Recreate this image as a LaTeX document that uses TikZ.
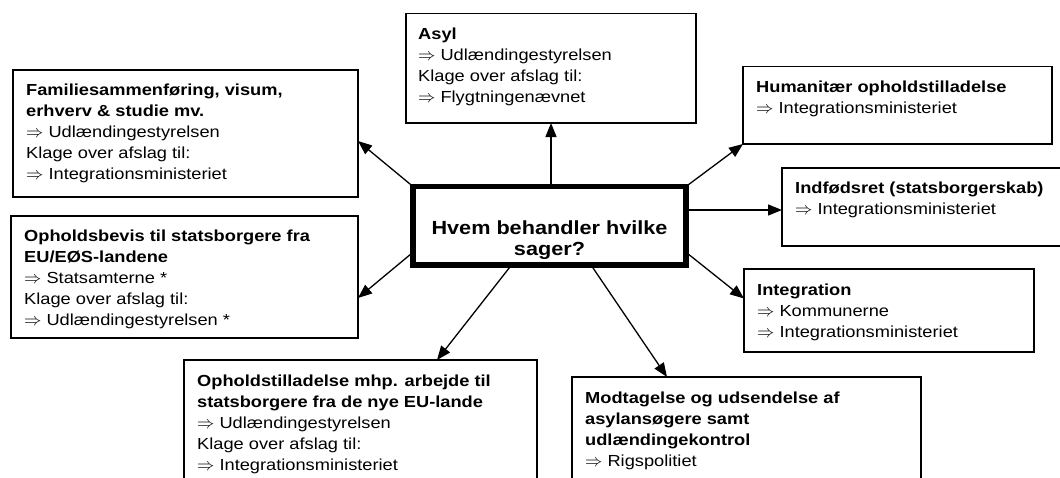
\documentclass[tikz,border=0pt]{standalone}
\usepackage{fontspec}
\setmainfont{Liberation Sans}[FakeStretch=1.14]
\usetikzlibrary{arrows.meta}
\newcommand{\bodyfont}{\fontsize{16}{21}\selectfont}
\newcommand{\titlefont}{\fontsize{19}{21}\selectfont\bfseries}
\newcommand{\Ra}{$\Rightarrow$}
\newcommand{\boxtext}[1]{\parbox[t]{340pt}{\bodyfont\raggedright #1}}
\begin{document}
\begin{tikzpicture}[x=1pt,y=-1pt,
  box/.style={draw, line width=1.3pt, inner sep=0pt, outer sep=0pt, anchor=north west},
  ctrbox/.style={draw, line width=5.5pt, inner sep=0pt, outer sep=0pt, anchor=north west},
  txt/.style={anchor=base west, inner sep=0pt},
  arr/.style={line width=1.3pt, -{Triangle[length=14pt,width=11pt]}}]
\useasboundingbox (0,0) rectangle (1060,477);
\clip (0,0) rectangle (1060,477);
% boxes
\node[box, minimum width=290pt, minimum height=109.5pt] (asyl) at (406,13.5) {};
\node[box, minimum width=345pt, minimum height=127pt] (fam) at (13,70) {};
\node[box, minimum width=347pt, minimum height=122pt] (eu) at (11,216) {};
\node[ctrbox, minimum width=273pt, minimum height=78.5pt] (ctr) at (413,186.5) {};
\node[box, minimum width=309pt, minimum height=77.5pt] (hum) at (743,66.5) {};
\node[box, minimum width=290pt, minimum height=78pt] (ind) at (782,168) {};
\node[box, minimum width=290pt, minimum height=83pt] (integ) at (744,269) {};
\node[box, minimum width=353pt, minimum height=150pt] (oph) at (184,360) {};
\node[box, minimum width=349pt, minimum height=150pt] (mod) at (572,377) {};
% texts
\node[txt] (asylt) at (418,39.5) {\boxtext{\textbf{Asyl}\\ \Ra{} Udlændingestyrelsen\\ Klage over afslag til:\\ \Ra{} Flygtningenævnet}};
\node[txt] (famt) at (26,95.5) {\boxtext{\textbf{Familiesammenføring, visum,}\\ \textbf{erhverv \& studie mv.}\\ \Ra{} Udlændingestyrelsen\\ Klage over afslag til:\\ \Ra{} Integrationsministeriet}};
\node[txt] (eut) at (24,241) {\boxtext{\textbf{Opholdsbevis til statsborgere fra}\\ \textbf{EU/EØS-landene}\\ \Ra{} Statsamterne *\\ Klage over afslag til:\\ \Ra{} Udlændingestyrelsen *}};
\node[txt] (humt) at (756,92.5) {\boxtext{\textbf{Humanitær opholdstilladelse}\\ \Ra{} Integrationsministeriet}};
\node[txt] (indt) at (795,193) {\boxtext{\textbf{Indfødsret (statsborgerskab)}\\ \Ra{} Integrationsministeriet}};
\node[txt] (integt) at (757,295) {\boxtext{\textbf{Integration}\\ \Ra{} Kommunerne\\ \Ra{} Integrationsministeriet}};
\node[txt] (opht) at (197,386) {\boxtext{\textbf{Opholdstilladelse mhp. arbejde til}\\ \textbf{statsborgere fra de nye EU-lande}\\ \Ra{} Udlændingestyrelsen\\ Klage over afslag til:\\ \Ra{} Integrationsministeriet}};
\node[txt] (modt) at (585,403) {\boxtext{\textbf{Modtagelse og udsendelse af}\\ \textbf{asylansøgere samt}\\ \textbf{udlændingekontrol}\\ \Ra{} Rigspolitiet}};
\node[anchor=base, inner sep=0pt] (ctrt) at (549.5,234) {\parbox[t]{270pt}{\centering\titlefont Hvem behandler hvilke\\ sager?}};
% connectors
\draw[arr] (asyl.south |- ctr.north) -- (asyl.south);
\draw[arr] (ctr.north west) -- ([yshift=-7.5pt]fam.east);
\draw[arr] ([yshift=-26.5pt]ctr.west) -- ([yshift=-21pt]eu.east);
\draw[arr] (ctr.north east) -- (hum.south west);
\coordinate (indin) at ([yshift=-3pt]ind.west);
\draw[arr] (ctr.east |- indin) -- (indin);
\draw[arr] ([yshift=-26.5pt]ctr.east) -- ([yshift=12pt]integ.west);
\draw[arr] ([xshift=-38pt]ctr.south) -- ([xshift=76.5pt]oph.north);
\draw[arr] ([xshift=41.5pt]ctr.south) -- ([xshift=-79.5pt]mod.north);
\end{tikzpicture}
\end{document}
